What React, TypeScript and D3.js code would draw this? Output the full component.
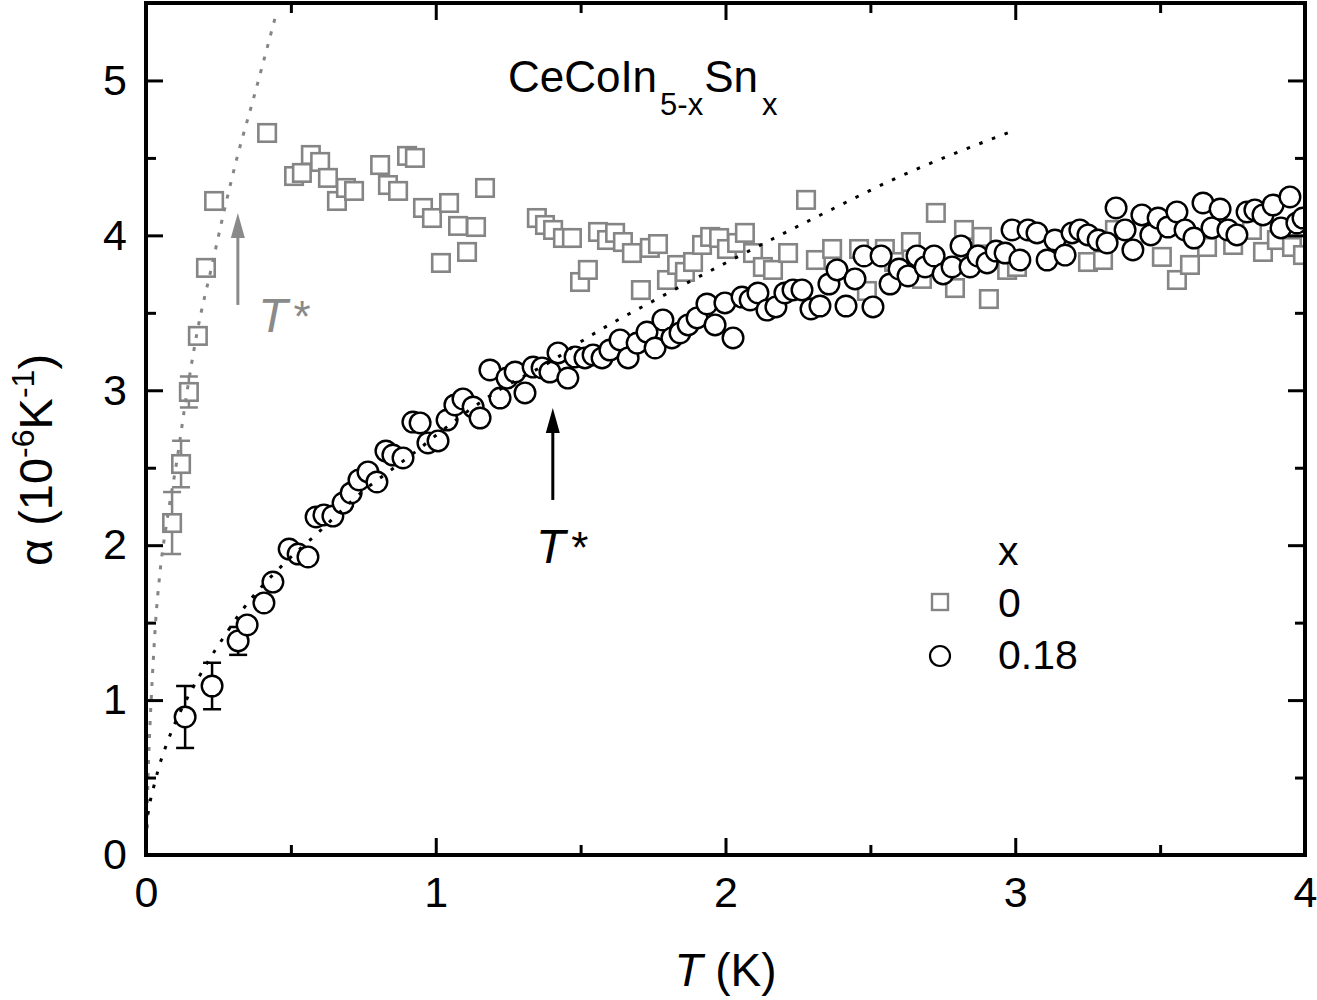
import React, { useEffect, useRef } from 'react';
import * as d3 from 'd3';

// ---- data: [T (K), alpha (1e-6 / K)] ----
const SQUARES_X0: [number, number][] = [
  [0.090, 2.143], [0.121, 2.524], [0.148, 2.989], [0.179, 3.351], [0.207, 3.790], [0.235, 4.222],
  [0.418, 4.661], [0.511, 4.383], [0.538, 4.403], [0.569, 4.519], [0.601, 4.474], [0.628, 4.371],
  [0.659, 4.222], [0.690, 4.306], [0.718, 4.287], [0.808, 4.454], [0.835, 4.325], [0.870, 4.287],
  [0.901, 4.513], [0.928, 4.500], [0.956, 4.177], [0.987, 4.112], [1.018, 3.822], [1.046, 4.209],
  [1.077, 4.061], [1.108, 3.893], [1.139, 4.054], [1.170, 4.306], [1.349, 4.112], [1.377, 4.067],
  [1.405, 4.035], [1.439, 3.983], [1.470, 3.983], [1.498, 3.699], [1.525, 3.777], [1.560, 4.022],
  [1.591, 3.970], [1.619, 4.016], [1.646, 3.957], [1.677, 3.886], [1.708, 3.647], [1.739, 3.919],
  [1.767, 3.944], [1.798, 3.712], [1.833, 3.809], [1.860, 3.764], [1.888, 3.828], [1.919, 3.938],
  [1.947, 3.990], [1.978, 3.983], [2.005, 3.912], [2.040, 3.951], [2.067, 4.016], [2.095, 3.886],
  [2.129, 3.796], [2.164, 3.777], [2.216, 3.886], [2.278, 4.229], [2.312, 3.841], [2.368, 3.912],
  [2.461, 3.912], [2.488, 3.641], [2.550, 3.912], [2.582, 3.828], [2.640, 3.957], [2.678, 3.719],
  [2.726, 4.145], [2.792, 3.660], [2.823, 4.035], [2.885, 3.990], [2.909, 3.589], [2.972, 3.777],
  [3.006, 3.796], [3.251, 3.828], [3.303, 3.841], [3.344, 4.035], [3.506, 3.861], [3.558, 3.712],
  [3.603, 3.809], [3.662, 3.925], [3.752, 3.938], [3.817, 4.035], [3.855, 3.893], [3.903, 3.970],
  [3.955, 3.925], [3.993, 3.873],
];

const CIRCLES_X018: [number, number][] = [
  [0.135, 0.891], [0.228, 1.091], [0.318, 1.382], [0.349, 1.485], [0.407, 1.627], [0.438, 1.762],
  [0.494, 1.975], [0.525, 1.943], [0.559, 1.924], [0.587, 2.182], [0.614, 2.195], [0.645, 2.188],
  [0.680, 2.272], [0.708, 2.337], [0.735, 2.421], [0.766, 2.473], [0.797, 2.408], [0.828, 2.608],
  [0.852, 2.582], [0.887, 2.563], [0.921, 2.795], [0.946, 2.789], [0.973, 2.660], [1.008, 2.673],
  [1.039, 2.808], [1.066, 2.905], [1.094, 2.944], [1.129, 2.892], [1.153, 2.821], [1.187, 3.131],
  [1.222, 2.950], [1.246, 3.079], [1.274, 3.118], [1.308, 2.983], [1.336, 3.150], [1.367, 3.144],
  [1.394, 3.118], [1.422, 3.241], [1.456, 3.079], [1.481, 3.215], [1.515, 3.209], [1.543, 3.228],
  [1.574, 3.209], [1.601, 3.260], [1.636, 3.325], [1.664, 3.209], [1.695, 3.305], [1.729, 3.376],
  [1.757, 3.273], [1.784, 3.454], [1.815, 3.338], [1.843, 3.370], [1.871, 3.422], [1.902, 3.467],
  [1.936, 3.557], [1.964, 3.422], [1.998, 3.564], [2.026, 3.338], [2.057, 3.602], [2.085, 3.583],
  [2.112, 3.628], [2.143, 3.518], [2.174, 3.538], [2.205, 3.628], [2.233, 3.648], [2.264, 3.648],
  [2.295, 3.525], [2.326, 3.544], [2.357, 3.686], [2.385, 3.777], [2.416, 3.544], [2.447, 3.719],
  [2.478, 3.867], [2.509, 3.538], [2.537, 3.867], [2.568, 3.686], [2.599, 3.783], [2.630, 3.738],
  [2.661, 3.867], [2.689, 3.796], [2.720, 3.867], [2.751, 3.751], [2.782, 3.796], [2.813, 3.932],
  [2.844, 3.796], [2.871, 3.867], [2.903, 3.822], [2.934, 3.899], [2.965, 3.886], [2.989, 4.035],
  [3.016, 3.841], [3.044, 4.035], [3.075, 4.016], [3.110, 3.841], [3.137, 3.970], [3.172, 3.873],
  [3.196, 4.016], [3.223, 4.035], [3.251, 4.003], [3.286, 3.970], [3.317, 3.951], [3.348, 4.177],
  [3.379, 4.035], [3.406, 3.906], [3.437, 4.132], [3.468, 4.003], [3.493, 4.112], [3.527, 4.054],
  [3.558, 4.151], [3.586, 4.035], [3.617, 3.983], [3.648, 4.209], [3.679, 4.048], [3.707, 4.170],
  [3.734, 4.035], [3.765, 4.003], [3.800, 4.151], [3.827, 4.164], [3.855, 4.132], [3.890, 4.196],
  [3.917, 4.048], [3.948, 4.248], [3.972, 4.080], [3.993, 4.112],
];

// error bars: [T, alpha, +/- error]
const ERR_X0: [number, number, number][] = [
  [0.090, 2.143, 0.20], [0.121, 2.524, 0.15], [0.148, 2.989, 0.10],
];
const ERR_X018: [number, number, number][] = [
  [0.135, 0.891, 0.20], [0.228, 1.091, 0.15], [0.318, 1.382, 0.09],
];

// dotted guide curves
const FIT_X0: [number, number][] = [
  [0, 0], [0.003, 0.2], [0.007, 0.5], [0.014, 0.85], [0.022, 1.15], [0.033, 1.5], [0.048, 1.82],
  [0.071, 2.14], [0.107, 2.55], [0.14, 2.97], [0.176, 3.37], [0.227, 3.8], [0.27, 4.16],
  [0.314, 4.5], [0.369, 4.87], [0.445, 5.4],
];
const FIT_X018: [number, number][] = [
  [0, 0], [0.002, 0.16], [0.014, 0.34], [0.024, 0.42], [0.045, 0.57], [0.076, 0.74], [0.093, 0.82],
  [0.159, 1.07], [0.183, 1.15], [0.238, 1.32], [0.266, 1.4], [0.324, 1.56], [0.487, 1.9],
  [0.576, 2.05], [0.763, 2.37], [0.849, 2.49], [0.935, 2.61], [1.015, 2.73], [1.2, 2.98],
  [1.418, 3.21], [1.498, 3.31], [1.774, 3.6], [2.04, 3.86], [2.326, 4.13], [2.578, 4.36], [3.0, 4.68],
];

// T* arrows: [T, alpha bottom, alpha tip]
const ARROWS = [
  { t: 0.317, from: 3.551, to: 4.145, color: '#8a8a8a' },
  { t: 1.404, from: 2.292, to: 2.886, color: '#000' },
];
const TSTAR_LABELS = [
  { t: 0.387, a: 3.376, color: '#8a8a8a' },
  { t: 1.346, a: 1.885, color: '#000' },
];

const X_TICKS = [0, 1, 2, 3, 4];
const X_MINOR = [0.5, 1.5, 2.5, 3.5];
const Y_TICKS = [0, 1, 2, 3, 4, 5];
const Y_MINOR = [0.5, 1.5, 2.5, 3.5, 4.5];

const GRAY = '#858585';
const FONT = 'Liberation Sans, Arial, Helvetica, sans-serif';

export default function App() {
  const svgRef = useRef<SVGSVGElement>(null);
  const width = 1317;
  const height = 1000;
  const margin = { top: 3, right: 12, bottom: 145, left: 146 };
  const innerWidth = width - margin.left - margin.right;
  const innerHeight = height - margin.top - margin.bottom;

  useEffect(() => {
    if (!svgRef.current) return;
    const svg = d3.select(svgRef.current);
    svg.selectAll('*').remove();

    const x = d3.scaleLinear().domain([0, 4]).range([0, innerWidth]);
    const y = d3.scaleLinear().domain([0, 5.5]).range([innerHeight, 0]);

    svg.append('defs').append('clipPath').attr('id', 'plot-clip')
      .append('rect').attr('width', innerWidth).attr('height', innerHeight);

    const g = svg.append('g').attr('transform', `translate(${margin.left},${margin.top})`);
    const plot = g.append('g').attr('clip-path', 'url(#plot-clip)');

    // error bars
    const drawErr = (data: [number, number, number][], color: string) => {
      data.forEach(([t, a, e]) => {
        const eb = plot.append('g').attr('stroke', color).attr('stroke-width', 2.5);
        eb.append('line').attr('x1', x(t)).attr('x2', x(t)).attr('y1', y(a - e)).attr('y2', y(a + e));
        [a - e, a + e].forEach(v => {
          eb.append('line').attr('x1', x(t) - 9).attr('x2', x(t) + 9).attr('y1', y(v)).attr('y2', y(v));
        });
      });
    };

    // x = 0 : open grey squares
    drawErr(ERR_X0, GRAY);
    const sq = 17.5;
    plot.append('g').selectAll('rect').data(SQUARES_X0).enter().append('rect')
      .attr('x', d => x(d[0]) - sq / 2)
      .attr('y', d => y(d[1]) - sq / 2)
      .attr('width', sq).attr('height', sq)
      .attr('fill', '#fff').attr('stroke', GRAY).attr('stroke-width', 2.6);

    // x = 0.18 : open black circles
    drawErr(ERR_X018, '#000');
    plot.append('g').selectAll('circle').data(CIRCLES_X018).enter().append('circle')
      .attr('cx', d => x(d[0]))
      .attr('cy', d => y(d[1]))
      .attr('r', 10.3)
      .attr('fill', '#fff').attr('stroke', '#000').attr('stroke-width', 2.4);

    // dotted guides
    const line = d3.line<[number, number]>()
      .x(d => x(d[0])).y(d => y(d[1]))
      .curve(d3.curveMonotoneX);
    plot.append('path').datum(FIT_X0).attr('d', line)
      .attr('fill', 'none').attr('stroke', GRAY).attr('stroke-width', 3)
      .attr('stroke-dasharray', '4,9');
    plot.append('path').datum(FIT_X018).attr('d', line)
      .attr('fill', 'none').attr('stroke', '#000').attr('stroke-width', 3)
      .attr('stroke-dasharray', '3.5,10');

    // arrows
    ARROWS.forEach(ar => {
      const ax = x(ar.t);
      const tip = y(ar.to);
      g.append('line').attr('x1', ax).attr('x2', ax).attr('y1', y(ar.from)).attr('y2', tip + 20)
        .attr('stroke', ar.color).attr('stroke-width', 3);
      g.append('path')
        .attr('d', `M${ax},${tip} L${ax - 7},${tip + 25} L${ax + 7},${tip + 25} Z`)
        .attr('fill', ar.color);
    });

    // T* labels
    TSTAR_LABELS.forEach(l => {
      const tx = g.append('text')
        .attr('x', x(l.t)).attr('y', y(l.a))
        .attr('fill', l.color).attr('font-family', FONT).attr('font-size', 48);
      tx.append('tspan').attr('font-style', 'italic').text('T');
      tx.append('tspan').attr('dx', 6).attr('font-size', 44).text('*');
    });

    // axes (ticks point inward)
    const styleAxis = (sel: d3.Selection<SVGGElement, unknown, null, undefined>) => {
      sel.select('.domain').remove();
      sel.selectAll('.tick line').attr('stroke', '#000').attr('stroke-width', 3);
      sel.selectAll('.tick text').attr('fill', '#000')
        .attr('font-family', FONT).attr('font-size', 43);
    };

    g.append('g').attr('transform', `translate(0,${innerHeight})`)
      .call(d3.axisBottom(x).tickValues(X_TICKS).tickSizeInner(-17).tickSizeOuter(0)
        .tickPadding(21).tickFormat(d3.format('d')))
      .call(styleAxis);
    g.append('g').attr('transform', `translate(0,${innerHeight})`)
      .call(d3.axisBottom(x).tickValues(X_MINOR).tickSizeInner(-10).tickSizeOuter(0).tickFormat(() => ''))
      .call(styleAxis);
    g.append('g')
      .call(d3.axisTop(x).tickValues(X_TICKS).tickSizeInner(-17).tickSizeOuter(0).tickFormat(() => ''))
      .call(styleAxis);
    g.append('g')
      .call(d3.axisTop(x).tickValues(X_MINOR).tickSizeInner(-10).tickSizeOuter(0).tickFormat(() => ''))
      .call(styleAxis);

    g.append('g')
      .call(d3.axisLeft(y).tickValues(Y_TICKS).tickSizeInner(-17).tickSizeOuter(0)
        .tickPadding(19).tickFormat(d3.format('d')))
      .call(styleAxis);
    g.append('g')
      .call(d3.axisLeft(y).tickValues(Y_MINOR).tickSizeInner(-10).tickSizeOuter(0).tickFormat(() => ''))
      .call(styleAxis);
    g.append('g').attr('transform', `translate(${innerWidth},0)`)
      .call(d3.axisRight(y).tickValues(Y_TICKS).tickSizeInner(-17).tickSizeOuter(0).tickFormat(() => ''))
      .call(styleAxis);
    g.append('g').attr('transform', `translate(${innerWidth},0)`)
      .call(d3.axisRight(y).tickValues(Y_MINOR).tickSizeInner(-10).tickSizeOuter(0).tickFormat(() => ''))
      .call(styleAxis);

    // frame
    g.append('rect').attr('width', innerWidth).attr('height', innerHeight)
      .attr('fill', 'none').attr('stroke', '#000').attr('stroke-width', 4);

    // compound label
    const title = g.append('text')
      .attr('x', x(1.249)).attr('y', y(4.926))
      .attr('font-family', FONT).attr('font-size', 44).attr('fill', '#000');
    title.append('tspan').text('CeCoIn');
    title.append('tspan').attr('dx', 3).attr('dy', 23).attr('font-size', 31).text('5-x');
    title.append('tspan').attr('dx', 1).attr('dy', -23).text('Sn');
    title.append('tspan').attr('dx', 4).attr('dy', 23).attr('font-size', 31).text('x');

    // legend
    const legend = svg.append('g').attr('font-family', FONT).attr('font-size', 41).attr('fill', '#000');
    legend.append('text').attr('x', 998).attr('y', 565).text('x');
    legend.append('rect').attr('x', 932).attr('y', 594).attr('width', 16).attr('height', 16)
      .attr('fill', '#fff').attr('stroke', GRAY).attr('stroke-width', 2.4);
    legend.append('text').attr('x', 998).attr('y', 617).text('0');
    legend.append('circle').attr('cx', 940).attr('cy', 656).attr('r', 10)
      .attr('fill', '#fff').attr('stroke', '#000').attr('stroke-width', 2.2);
    legend.append('text').attr('x', 998).attr('y', 669).text('0.18');

    // axis titles
    const xt = svg.append('text')
      .attr('x', margin.left + innerWidth / 2).attr('y', 986)
      .attr('text-anchor', 'middle')
      .attr('font-family', FONT).attr('font-size', 46).attr('fill', '#000');
    xt.append('tspan').attr('font-style', 'italic').text('T');
    xt.append('tspan').text(' (K)');

    const yt = svg.append('text')
      .attr('transform', `translate(52,460) rotate(-90)`)
      .attr('text-anchor', 'middle')
      .attr('font-family', FONT).attr('font-size', 47).attr('fill', '#000');
    yt.append('tspan').text('α (10');
    yt.append('tspan').attr('dy', -18).attr('font-size', 32).text('-6');
    yt.append('tspan').attr('dy', 18).text('K');
    yt.append('tspan').attr('dy', -18).attr('font-size', 32).text('-1');
    yt.append('tspan').attr('dy', 18).text(')');
  }, []);

  return (
    <svg
      ref={svgRef}
      width={width}
      height={height}
      style={{ position: 'absolute', left: 0, top: 0, background: '#fff' }}
    />
  );
}
